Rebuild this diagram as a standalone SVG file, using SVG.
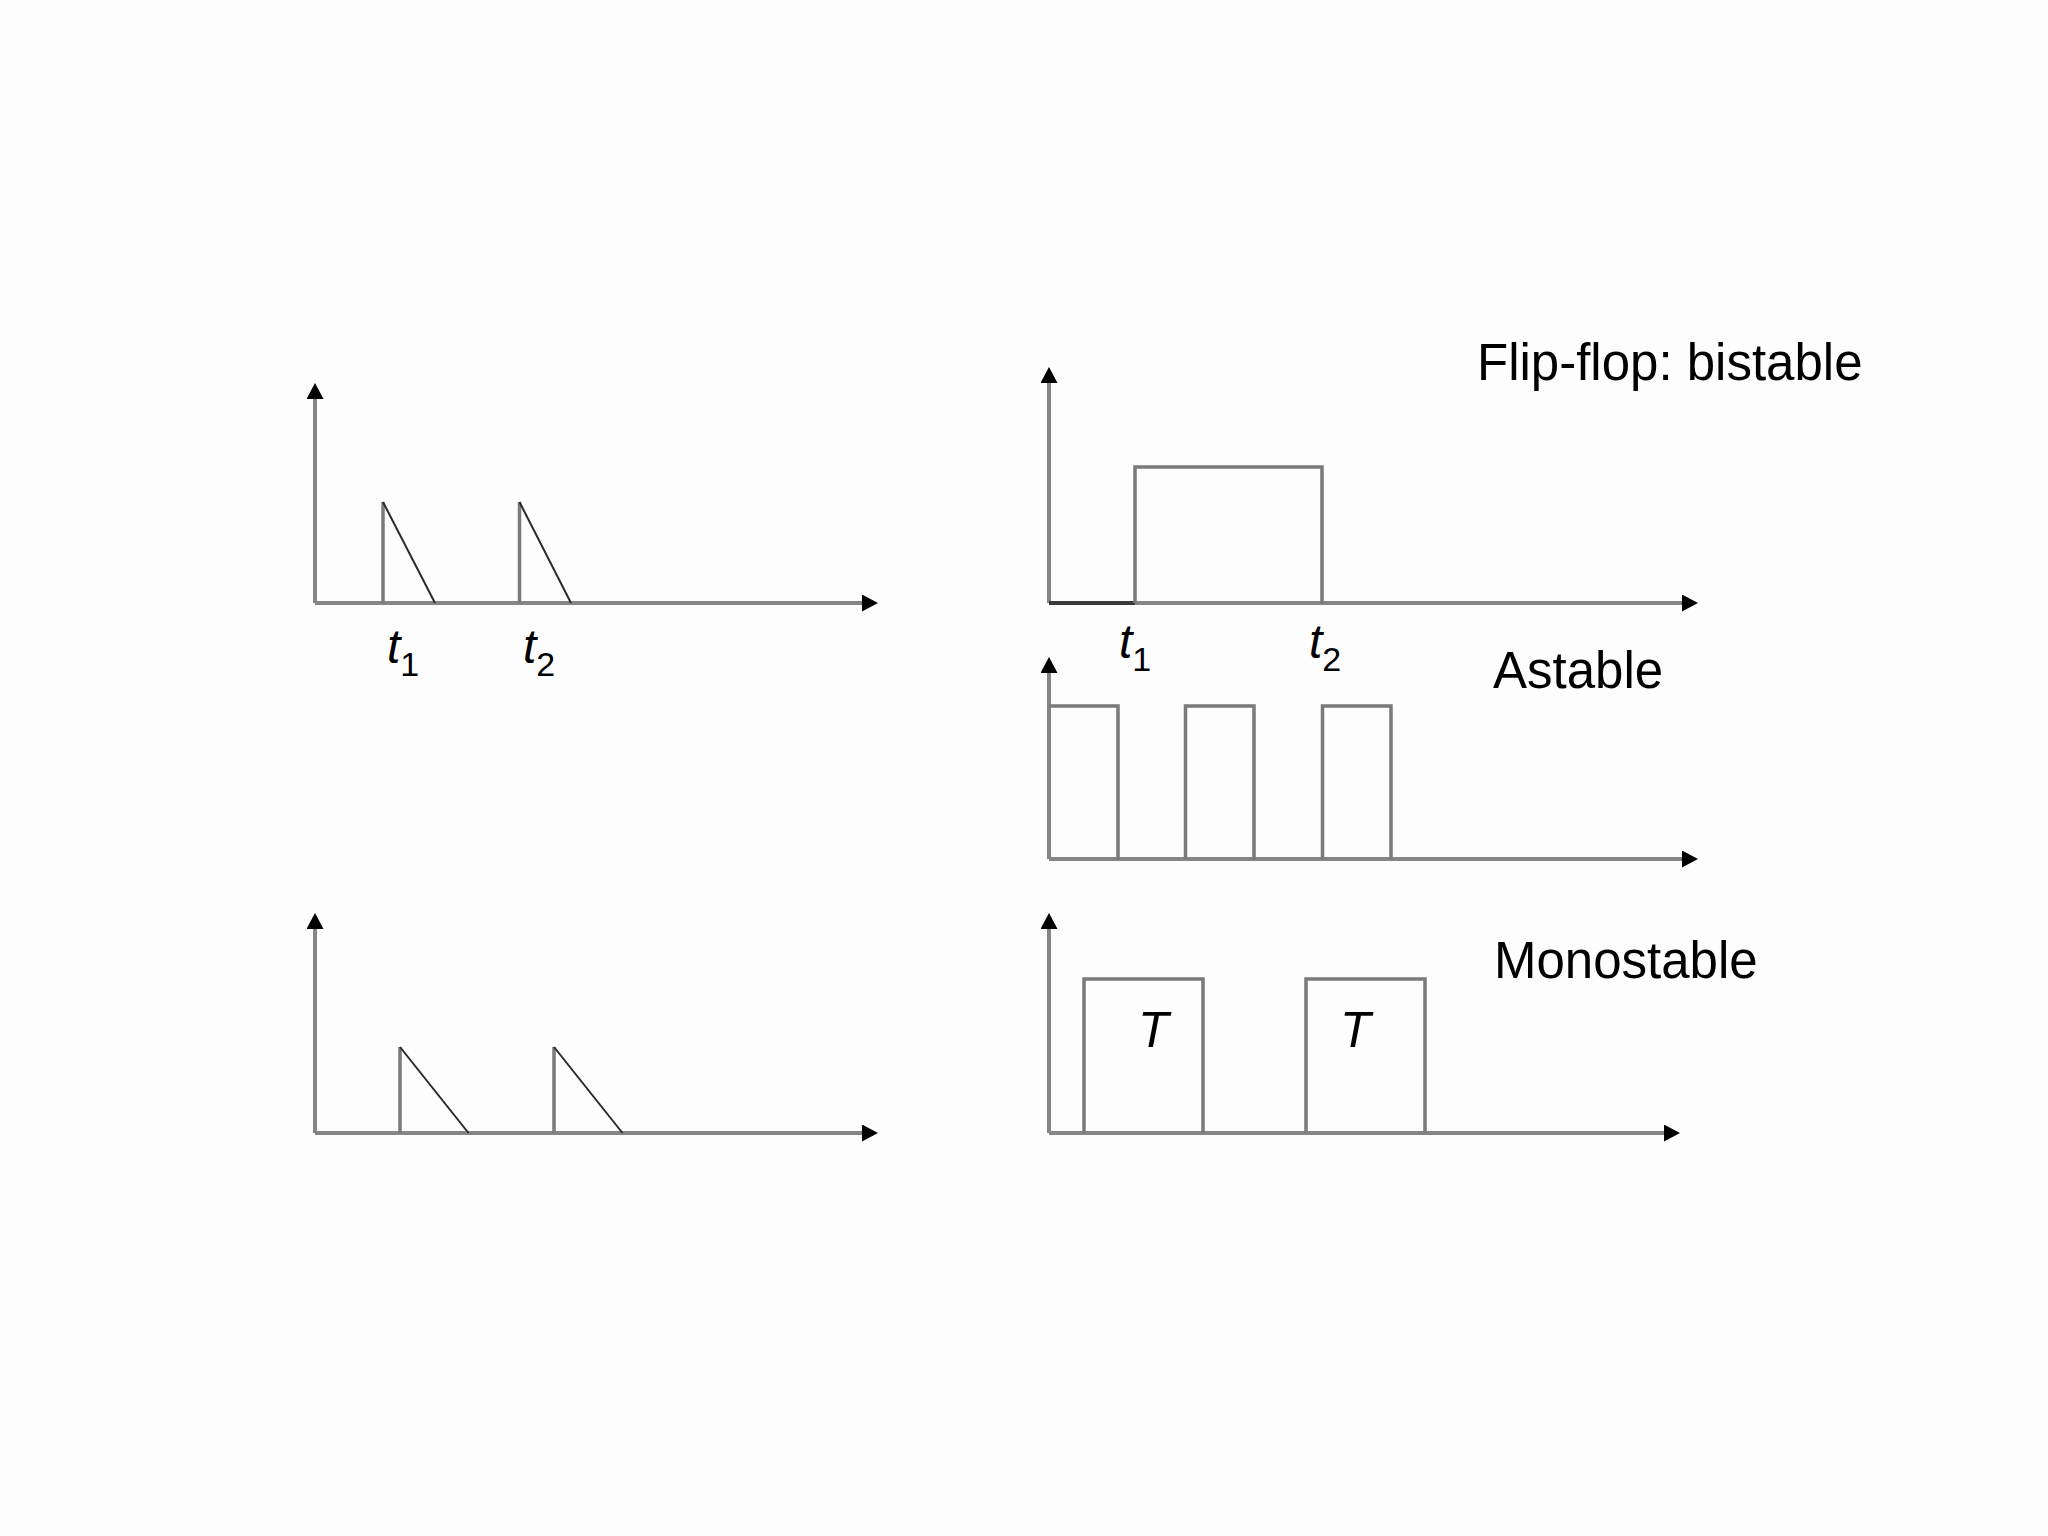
<svg xmlns="http://www.w3.org/2000/svg" width="2048" height="1536" viewBox="0 0 2048 1536">
  <defs>
    <marker id="arrow" markerUnits="userSpaceOnUse" markerWidth="16" markerHeight="17" viewBox="0 0 16 17" refX="7" refY="8.5" orient="auto">
      <path d="M0,0 L16,8.5 L0,17 Z" fill="#000"/>
    </marker>
    <style>
      .axis { fill: none; stroke: #858585; stroke-width: 4; marker-end: url(#arrow); }
      .wave { fill: none; stroke: #7a7a7a; stroke-width: 3.5; stroke-linejoin: miter; }
      .diag { fill: none; stroke: #2a2a2a; stroke-width: 2; }
      .dark { fill: none; stroke: #3a3a3a; stroke-width: 4; }
      .label { font-family: "Liberation Sans", Arial, sans-serif; font-size: 51px; fill: #000; }
      .var { font-family: "Liberation Sans", Arial, sans-serif; font-size: 48px; font-style: italic; fill: #000; }
      .sub { font-size: 34px; font-style: normal; }
    </style>
  </defs>
  <rect width="2048" height="1536" fill="#fdfdfd"/>

  <g id="trigger-top">
    <path class="axis" d="M315,603 L315,392"/>
    <path class="axis" d="M315,603 L869,603"/>
    <path class="wave" d="M383,603 L383,502"/>
    <path class="diag" d="M383,502 L435,603"/>
    <path class="wave" d="M519.5,603 L519.5,502"/>
    <path class="diag" d="M519.5,502 L571,603"/>
    <text class="var" x="387" y="663">t<tspan class="sub" dy="13">1</tspan></text>
    <text class="var" x="523" y="663">t<tspan class="sub" dy="13">2</tspan></text>
  </g>

  <g id="bistable">
    <path class="axis" d="M1049,603 L1049,376"/>
    <path class="axis" d="M1049,603 L1689,603"/>
    <path class="dark" d="M1049,603 L1135,603"/>
    <path class="wave" d="M1135,603 L1135,467 L1322,467 L1322,603"/>
    <text class="var" x="1119" y="658">t<tspan class="sub" dy="13">1</tspan></text>
    <text class="var" x="1309" y="658">t<tspan class="sub" dy="13">2</tspan></text>
    <text class="label" x="1477" y="380">Flip-flop: bistable</text>
  </g>

  <g id="astable">
    <path class="axis" d="M1049,859 L1049,666"/>
    <path class="axis" d="M1049,859 L1689,859"/>
    <path class="wave" d="M1049,706 L1118,706 L1118,859"/>
    <path class="wave" d="M1185.5,859 L1185.5,706 L1254,706 L1254,859"/>
    <path class="wave" d="M1322.5,859 L1322.5,706 L1391,706 L1391,859"/>
    <text class="label" x="1493" y="688">Astable</text>
  </g>

  <g id="trigger-bottom">
    <path class="axis" d="M315,1133 L315,922"/>
    <path class="axis" d="M315,1133 L869,1133"/>
    <path class="wave" d="M400,1133 L400,1047"/>
    <path class="diag" d="M400,1047 L468.5,1133"/>
    <path class="wave" d="M554,1133 L554,1047"/>
    <path class="diag" d="M554,1047 L622.5,1133"/>
  </g>

  <g id="monostable">
    <path class="axis" d="M1049,1133 L1049,922"/>
    <path class="axis" d="M1049,1133 L1671,1133"/>
    <path class="wave" d="M1084,1133 L1084,979 L1203,979 L1203,1133"/>
    <path class="wave" d="M1306,1133 L1306,979 L1425,979 L1425,1133"/>
    <text class="var" x="1138" y="1047" style="font-size:50px">T</text>
    <text class="var" x="1340" y="1047" style="font-size:50px">T</text>
    <text class="label" x="1494" y="978">Monostable</text>
  </g>
</svg>
